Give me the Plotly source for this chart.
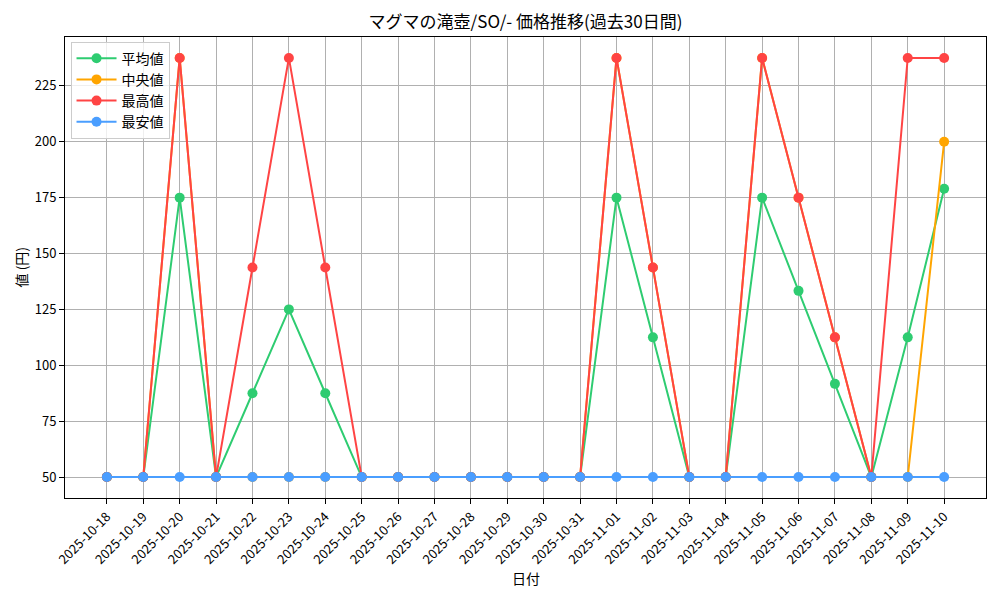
import plotly.graph_objects as go

dates = ["2025-10-18", "2025-10-19", "2025-10-20", "2025-10-21", "2025-10-22",
         "2025-10-23", "2025-10-24", "2025-10-25", "2025-10-26", "2025-10-27",
         "2025-10-28", "2025-10-29", "2025-10-30", "2025-10-31", "2025-11-01",
         "2025-11-02", "2025-11-03", "2025-11-04", "2025-11-05", "2025-11-06",
         "2025-11-07", "2025-11-08", "2025-11-09", "2025-11-10"]

avg_vals = [50, 50, 175, 50, 87.5, 125, 87.5, 50, 50, 50, 50, 50, 50, 50, 175,
            112.5, 50, 50, 175, 133.3, 91.7, 50, 112.5, 179]
median_vals = [50, 50, 237.5, 50, 50, 50, 50, 50, 50, 50, 50, 50, 50, 50, 237.5,
               143.75, 50, 50, 237.5, 175, 112.5, 50, 50, 200]
max_vals = [50, 50, 237.5, 50, 143.75, 237.5, 143.75, 50, 50, 50, 50, 50, 50, 50, 237.5,
            143.75, 50, 50, 237.5, 175, 112.5, 50, 237.5, 237.5]
min_vals = [50, 50, 50, 50, 50, 50, 50, 50, 50, 50, 50, 50, 50, 50, 50,
            50, 50, 50, 50, 50, 50, 50, 50, 50]

series = [
    ("平均値", avg_vals, "#2ECC71"),
    ("中央値", median_vals, "#FFA500"),
    ("最高値", max_vals, "#FF4444"),
    ("最安値", min_vals, "#4A9EFF"),
]

FONT = "Noto Sans CJK JP, sans-serif"
n = len(dates)
OFF = 8  # page offset of the plot div

fig = go.Figure()
for name, vals, color in series:
    fig.add_trace(go.Scatter(
        x=dates, y=vals, name=name, mode="lines+markers",
        line=dict(color=color, width=2),
        marker=dict(color=color, size=10),
    ))

fig.update_layout(
    width=1000, height=600,
    margin=dict(l=65 - OFF, r=1000 - 986 + OFF, t=37 - OFF, b=600 - 498 + OFF),
    paper_bgcolor="white", plot_bgcolor="white",
    font=dict(family=FONT, size=14, color="black"),
    title=dict(text="マグマの滝壺/SO/- 価格推移(過去30日間)", x=0.5, xref="paper",
               y=1 - (22 - OFF) / 600, yref="container", yanchor="middle",
               font=dict(size=17, family=FONT)),
    showlegend=True,
    legend=dict(x=0.006, y=0.99, xanchor="left", yanchor="top",
                bgcolor="rgba(255,255,255,0.8)", bordercolor="#cccccc", borderwidth=1,
                font=dict(size=14, family=FONT), tracegroupgap=0, itemwidth=40),
    annotations=[
        dict(text="日付", x=0.5, xref="paper", y=(498 - 578) / 461, yref="paper",
             showarrow=False, font=dict(size=14, family=FONT), yanchor="middle"),
        dict(text="値 (円)", x=(20 - 65) / 921, xref="paper", y=0.5, yref="paper",
             showarrow=False, textangle=-90, font=dict(size=14, family=FONT),
             xanchor="center", yanchor="middle"),
    ],
)

fig.update_xaxes(
    type="category", range=[-1.15, n - 1 + 1.15],
    showgrid=True, gridcolor="#b0b0b0", gridwidth=1,
    showline=True, linecolor="black", linewidth=1, mirror=True,
    ticks="outside", ticklen=5, tickcolor="black", tickangle=-45,
    tickfont=dict(size=13, family=FONT), zeroline=False,
)
fig.update_yaxes(
    range=[40.625, 246.875], tickmode="array", tickvals=[50, 75, 100, 125, 150, 175, 200, 225],
    showgrid=True, gridcolor="#b0b0b0", gridwidth=1,
    showline=True, linecolor="black", linewidth=1, mirror=True,
    ticks="outside", ticklen=5, tickcolor="black",
    tickfont=dict(size=13, family=FONT), zeroline=False,
)

fig.write_html("out.html")
